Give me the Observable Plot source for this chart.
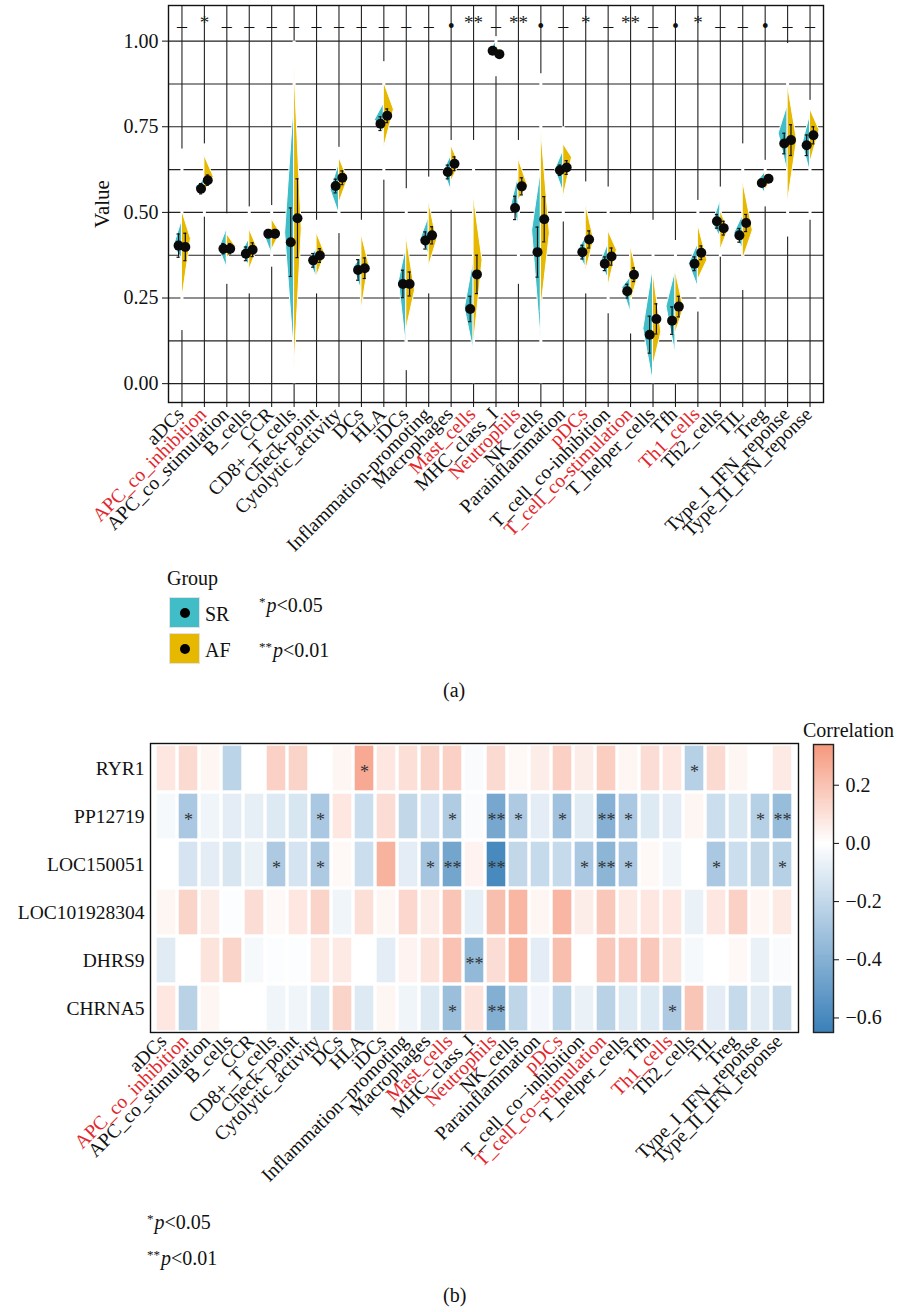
<!DOCTYPE html>
<html>
<head>
<meta charset="utf-8">
<script src="https://cdn.jsdelivr.net/npm/d3@7"></script>
<script src="https://cdn.jsdelivr.net/npm/@observablehq/plot@0.6"></script>
<style>
html,body{margin:0;padding:0;background:#fff;}
#wrap{position:relative;width:904px;height:1312px;overflow:hidden;font-family:"Liberation Serif","Times New Roman",serif;color:#111;}
#wrap svg{position:absolute;}
.t{position:absolute;white-space:nowrap;line-height:1;font-size:20px;transform:translateY(-50%);}
.sw{position:absolute;width:31px;height:31px;box-sizing:border-box;border:1px solid #e2e2e2;}
.sw::after{content:"";position:absolute;left:50%;top:50%;width:10px;height:10px;margin:-5px 0 0 -5px;border-radius:50%;background:#000;}
.sup{font-size:13px;position:relative;top:-6px;margin-right:1px;}
</style>
</head>
<body>
<div id="wrap">
  <div class="t" style="left:167px;top:578px;">Group</div>
  <div class="sw" style="left:169px;top:597px;background:#41BDC7;"></div>
  <div class="sw" style="left:169px;top:633px;background:#E7B800;"></div>
  <div class="t" style="left:205px;top:614px;">SR</div>
  <div class="t" style="left:205px;top:650px;">AF</div>
  <div class="t" style="left:259px;top:605px;"><span class="sup">*</span><i>p</i>&lt;0.05</div>
  <div class="t" style="left:259px;top:650px;"><span class="sup">**</span><i>p</i>&lt;0.01</div>
  <div class="t" style="left:443px;top:690px;">(a)</div>
  <div class="t" style="left:803px;top:730px;">Correlation</div>
  <div class="t" style="left:147px;top:1222px;"><span class="sup">*</span><i>p</i>&lt;0.05</div>
  <div class="t" style="left:147px;top:1258px;"><span class="sup">**</span><i>p</i>&lt;0.01</div>
  <div class="t" style="left:443px;top:1295px;">(b)</div>
</div>
<script>
// ---------- Data ----------
const categories = ["aDCs","APC_co_inhibition","APC_co_stimulation","B_cells","CCR","CD8+_T_cells","Check-point","Cytolytic_activity","DCs","HLA","iDCs","Inflammation-promoting","Macrophages","Mast_cells","MHC_class_I","Neutrophils","NK_cells","Parainflammation","pDCs","T_cell_co-inhibition","T_cell_co-stimulation","T_helper_cells","Tfh","Th1_cells","Th2_cells","TIL","Treg","Type_I_IFN_reponse","Type_II_IFN_reponse"];
const redCategories = ["APC_co_inhibition","Mast_cells","Neutrophils","pDCs","T_cell_co-stimulation","Th1_cells"];
const groupSignif = ["–","*","–","–","–","–","–","–","–","–","–","–","•","**","–","**","•","–","*","–","**","–","•","*","–","–","•","–","–"];

// group means and error bar half-lengths
const srMean = [0.403,0.569,0.394,0.379,0.438,0.413,0.360,0.577,0.332,0.759,0.291,0.418,0.618,0.218,0.972,0.513,0.384,0.623,0.384,0.350,0.270,0.143,0.184,0.350,0.474,0.433,0.586,0.701,0.696];
const afMean = [0.399,0.594,0.394,0.391,0.438,0.483,0.374,0.601,0.337,0.782,0.291,0.433,0.642,0.319,0.962,0.576,0.480,0.631,0.421,0.371,0.318,0.189,0.225,0.382,0.454,0.469,0.598,0.711,0.725];
const srErr = [0.034,0.015,0.015,0.020,0.012,0.100,0.020,0.020,0.030,0.020,0.040,0.025,0.020,0.037,0.008,0.034,0.073,0.015,0.020,0.020,0.020,0.054,0.040,0.020,0.020,0.020,0.010,0.030,0.030];
const afErr = [0.040,0.015,0.015,0.020,0.012,0.115,0.020,0.020,0.030,0.020,0.035,0.025,0.020,0.056,0.008,0.025,0.066,0.020,0.025,0.025,0.020,0.044,0.030,0.020,0.020,0.025,0.010,0.045,0.025];

// half-violin outlines: low tip, widest value, high tip, half width (category units)
const srLow   = [0.365,0.550,0.340,0.345,0.379,0.087,0.311,0.496,0.272,0.735,0.106,0.379,0.564,0.096,0.954,0.467,0.126,0.559,0.340,0.306,0.209,0.004,0.087,0.282,0.428,0.394,0.555,0.618,0.618];
const srPeak  = [0.400,0.572,0.394,0.380,0.435,0.440,0.360,0.565,0.340,0.770,0.300,0.420,0.620,0.220,0.975,0.523,0.447,0.625,0.385,0.355,0.280,0.160,0.225,0.350,0.468,0.440,0.590,0.730,0.700];
const srHigh  = [0.477,0.595,0.452,0.423,0.452,0.827,0.394,0.642,0.369,0.818,0.399,0.486,0.667,0.360,0.998,0.608,0.623,0.681,0.428,0.408,0.311,0.340,0.330,0.408,0.535,0.491,0.618,0.813,0.784];
const srWidth = [0.37,0.40,0.34,0.36,0.33,0.40,0.33,0.37,0.34,0.40,0.33,0.37,0.33,0.39,0.25,0.31,0.39,0.36,0.37,0.33,0.37,0.43,0.40,0.39,0.34,0.37,0.33,0.40,0.33];
const afLow   = [0.243,0.560,0.365,0.330,0.389,0.028,0.311,0.525,0.213,0.686,0.155,0.340,0.589,0.106,0.950,0.535,0.209,0.540,0.326,0.282,0.238,0.048,0.145,0.301,0.389,0.360,0.564,0.525,0.642];
const afPeak  = [0.423,0.603,0.400,0.395,0.440,0.450,0.378,0.597,0.350,0.800,0.272,0.418,0.640,0.360,0.962,0.578,0.438,0.660,0.420,0.390,0.310,0.150,0.220,0.360,0.449,0.447,0.600,0.710,0.740];
const afHigh  = [0.506,0.667,0.437,0.452,0.481,0.940,0.442,0.662,0.438,0.881,0.433,0.535,0.696,0.550,0.990,0.657,0.750,0.700,0.525,0.447,0.404,0.330,0.330,0.467,0.506,0.594,0.613,0.876,0.803];
const afWidth = [0.40,0.42,0.40,0.37,0.39,0.34,0.39,0.40,0.33,0.45,0.39,0.37,0.37,0.40,0.22,0.42,0.40,0.39,0.37,0.39,0.33,0.37,0.37,0.42,0.36,0.45,0.31,0.42,0.42];
// thin violin tails (full data range per cell type)
const tailLow  = [0.155,0.486,0.290,0.262,0.340,0.000,0.262,0.438,0.126,0.594,0.038,0.262,0.506,0.000,0.896,0.290,0.000,0.472,0.262,0.204,0.145,0.000,0.000,0.209,0.369,0.272,0.516,0.428,0.477];
const tailHigh = [0.685,0.700,0.496,0.516,0.520,1.000,0.477,0.690,0.477,0.940,0.569,0.603,0.710,0.710,1.013,0.710,0.905,0.750,0.589,0.574,0.496,0.477,0.418,0.535,0.574,0.700,0.652,0.993,0.827];

// correlation heatmap
const genes = ["RYR1","PP12719","LOC150051","LOC101928304","DHRS9","CHRNA5"];
const corrRYR1         = [0.08,0.12,0.03,-0.22,0,0.15,0.14,0,0.03,0.28,0.08,0.10,0.14,0.15,-0.02,0.12,0.02,0.06,0.15,0.06,0.16,0.03,0.11,0.08,-0.24,0.12,0.03,0,0.07];
const corrPP12719      = [-0.03,-0.28,-0.05,-0.09,-0.08,-0.11,-0.13,-0.28,0.08,-0.17,0.11,-0.20,-0.14,-0.26,-0.02,-0.45,-0.27,-0.09,-0.31,-0.10,-0.40,-0.28,-0.11,-0.09,0.03,-0.17,-0.13,-0.24,-0.34];
const corrLOC150051    = [0,-0.14,-0.09,-0.13,-0.07,-0.27,-0.14,-0.27,0.02,-0.17,0.25,-0.09,-0.30,-0.46,0.04,-0.60,-0.20,-0.19,-0.19,-0.28,-0.38,-0.28,0.02,-0.05,0,-0.28,-0.17,-0.20,-0.24];
const corrLOC101928304 = [0.03,0.14,0.06,-0.01,0.11,0.02,0.08,0.14,-0.05,0.10,0.03,0.13,0.06,0.19,-0.08,0.21,0.24,0.03,0.24,0.06,0.18,0.07,0.08,0.08,-0.07,0.08,0.15,0.03,0.07];
const corrDHRS9        = [-0.10,0,0.09,0.14,-0.03,-0.01,-0.01,0.07,0.07,0,-0.09,0.04,0.09,0.20,-0.36,0.11,0.24,-0.09,0.21,0,0.18,0.17,0.18,0.09,-0.03,0,0.02,-0.07,-0.02];
const corrCHRNA5       = [0.08,-0.23,0.03,0,0,-0.05,-0.05,-0.11,0.14,-0.11,0.03,-0.05,-0.11,-0.33,0.09,-0.41,-0.21,-0.04,-0.22,-0.07,-0.23,-0.11,-0.11,-0.27,0.19,-0.09,-0.19,-0.10,-0.18];
const sigRYR1         = [["HLA","*"],["Th2_cells","*"]];
const sigPP12719      = [["APC_co_inhibition","*"],["Cytolytic_activity","*"],["Mast_cells","*"],["Neutrophils","**"],["NK_cells","*"],["pDCs","*"],["T_cell_co-stimulation","**"],["T_helper_cells","*"],["Type_I_IFN_reponse","*"],["Type_II_IFN_reponse","**"]];
const sigLOC150051    = [["CD8+_T_cells","*"],["Cytolytic_activity","*"],["Macrophages","*"],["Mast_cells","**"],["Neutrophils","**"],["T_cell_co-inhibition","*"],["T_cell_co-stimulation","**"],["T_helper_cells","*"],["TIL","*"],["Type_II_IFN_reponse","*"]];
const sigLOC101928304 = [];
const sigDHRS9        = [["MHC_class_I","**"]];
const sigCHRNA5       = [["Mast_cells","*"],["Neutrophils","**"],["Th1_cells","*"]];
const colorTicks = [-0.6,-0.4,-0.2,0,0.2];

// ---------- Styles ----------
const teal = "#41BDC7", gold = "#E7B800", redText = "#E3262B", gridCol = "#222";
const font = "Liberation Serif, Times New Roman, serif";
const wrap = document.getElementById("wrap");
const n = categories.length;
const idx = d3.range(n);
const isRed = i => redCategories.includes(categories[i]);

// ---------- Panel (a): split violins ----------
const violins = [];
idx.forEach(i => {
  [[srLow[i], i, i], [srPeak[i], i, i - srWidth[i]], [srHigh[i], i, i]].forEach(([v, a, b]) =>
    violins.push({id: "SR" + i, g: "SR", v, x1: a, x2: b}));
  [[afLow[i], i, i], [afPeak[i], i, i + afWidth[i]], [afHigh[i], i, i]].forEach(([v, a, b]) =>
    violins.push({id: "AF" + i, g: "AF", v, x1: a, x2: b}));
});
const pts = idx.flatMap(i => [
  {g: "SR", x: i - 0.15, m: srMean[i], e: srErr[i]},
  {g: "AF", x: i + 0.15, m: afMean[i], e: afErr[i]}
]);
const yLo = -0.055, yHi = 1.104, sigY = 1.041;

const topPlot = Plot.plot({
  width: 904, height: 560,
  marginLeft: 168, marginRight: 81, marginTop: 5, marginBottom: 158,
  x: {domain: [-0.6, n - 1 + 0.6], axis: null},
  y: {domain: [yLo, yHi], axis: null},
  color: {domain: ["SR", "AF"], range: [teal, gold]},
  style: {fontFamily: font, background: "white", color: "#111"},
  marks: [
    Plot.ruleY(d3.range(0, 1.0001, 0.125), {stroke: gridCol, strokeWidth: 1.1}),
    Plot.ruleX(idx, {stroke: gridCol, strokeWidth: 1.1}),
    Plot.ruleX(idx, {x: d => d, y1: i => tailLow[i], y2: i => tailHigh[i], stroke: "white", strokeWidth: 3}),
    Plot.areaX(violins, {y: "v", x1: "x1", x2: "x2", z: "id", fill: "g", stroke: "white", strokeWidth: 1}),
    Plot.ruleX(pts, {x: "x", y1: d => d.m - d.e, y2: d => d.m + d.e, stroke: "#111", strokeWidth: 1.2}),
    Plot.ruleY(pts, {y: d => d.m - d.e, x1: d => d.x - 0.07, x2: d => d.x + 0.07, stroke: "#111", strokeWidth: 1.2}),
    Plot.ruleY(pts, {y: d => d.m + d.e, x1: d => d.x - 0.07, x2: d => d.x + 0.07, stroke: "#111", strokeWidth: 1.2}),
    Plot.dot(pts, {x: "x", y: "m", r: 5, fill: "#0a0a0a"}),
    Plot.text(idx.filter(i => !groupSignif[i].includes("*")), {x: d => d, y: sigY, text: i => groupSignif[i], fontSize: 20, fill: "#111"}),
    Plot.text(idx.filter(i => groupSignif[i].includes("*")), {x: d => d, y: sigY, text: i => groupSignif[i], fontSize: 19, dy: -4, fill: "#222"}),
    Plot.frame({stroke: "#111", strokeWidth: 1.4}),
    Plot.axisY({ticks: [0, 0.25, 0.5, 0.75, 1], tickFormat: d3.format(".2f"), tickSize: 6, tickPadding: 4, fontSize: 20, label: null}),
    Plot.axisX({ticks: idx, tickSize: 5, tickFormat: () => "", label: null}),
    Plot.text(["Value"], {frameAnchor: "left", rotate: -90, dx: -66, textAnchor: "middle", fontSize: 21, fill: "#111"}),
    Plot.text(idx.filter(i => !isRed(i)), {x: d => d, frameAnchor: "bottom", text: i => categories[i], rotate: -45, textAnchor: "end", dx: 3, dy: 13, fontSize: 19.5, fill: "#111"}),
    Plot.text(idx.filter(i => isRed(i)), {x: d => d, frameAnchor: "bottom", text: i => categories[i], rotate: -45, textAnchor: "end", dx: 3, dy: 13, fontSize: 19.5, fill: redText})
  ]
});
topPlot.style.left = "0px"; topPlot.style.top = "0px";
wrap.appendChild(topPlot);

// ---------- Panel (b): correlation heatmap ----------
const corrByGene = [corrRYR1, corrPP12719, corrLOC150051, corrLOC101928304, corrDHRS9, corrCHRNA5];
const sigByGene = [sigRYR1, sigPP12719, sigLOC150051, sigLOC101928304, sigDHRS9, sigCHRNA5];
const cells = genes.flatMap((g, gi) => categories.map((c, ci) => ({gene: g, cat: c, r: corrByGene[gi][ci]})));
const sigCells = genes.flatMap((g, gi) => sigByGene[gi].map(([c, s]) => ({gene: g, cat: c, s})));
const colorSpec = {type: "linear", domain: [-0.65, 0, 0.34], range: ["#3A80B9", "#FFFFFF", "#F5977C"], interpolate: "rgb", clamp: true};
const heatLabel = c => c.replace(/-/g, "\u2212");

const heat = Plot.plot({
  width: 904, height: 500,
  marginLeft: 150, marginRight: 106, marginTop: 43, marginBottom: 168,
  x: {domain: categories, padding: 0, axis: null},
  y: {domain: genes, padding: 0, axis: null},
  color: colorSpec,
  style: {fontFamily: font, background: "transparent", color: "#111"},
  marks: [
    Plot.cell(cells, {x: "cat", y: "gene", fill: "r", inset: 1.7}),
    Plot.text(sigCells, {x: "cat", y: "gene", text: "s", fontSize: 18, dy: 4, fill: "#333"}),
    Plot.frame({stroke: "#111", strokeWidth: 1.4}),
    Plot.axisY({tickSize: 0, tickPadding: 6, fontSize: 19.5, label: null}),
    Plot.text(categories.filter(c => !redCategories.includes(c)), {x: d => d, frameAnchor: "bottom", text: heatLabel, rotate: -45, textAnchor: "end", dx: 1, dy: 10, fontSize: 19.5, fill: "#111"}),
    Plot.text(categories.filter(c => redCategories.includes(c)), {x: d => d, frameAnchor: "bottom", text: heatLabel, rotate: -45, textAnchor: "end", dx: 1, dy: 10, fontSize: 19.5, fill: redText})
  ]
});
heat.style.left = "0px"; heat.style.top = "700px";
wrap.appendChild(heat);

// colour bar
const ramp = d3.range(-0.65, 0.34, 0.004);
const bar = Plot.plot({
  width: 91, height: 340,
  marginLeft: 0, marginRight: 71, marginTop: 44, marginBottom: 8,
  x: {domain: [0, 1], axis: null},
  y: {domain: [-0.65, 0.34], axis: null},
  color: colorSpec,
  style: {fontFamily: font, background: "transparent", color: "#111", overflow: "visible"},
  marks: [
    Plot.rect(ramp, {x1: 0, x2: 1, y1: d => d, y2: d => Math.min(0.34, d + 0.008), fill: d => d + 0.002, shapeRendering: "crispEdges"}),
    Plot.frame({stroke: "#222", strokeWidth: 1.4}),
    Plot.axisY({anchor: "right", ticks: colorTicks, tickFormat: d => d3.format(".1f")(d).replace("-", "\u2212"), tickSize: 5, tickPadding: 7, fontSize: 20, label: null})
  ]
});
bar.style.left = "813px"; bar.style.top = "700px";
wrap.appendChild(bar);
</script>
</body>
</html>
